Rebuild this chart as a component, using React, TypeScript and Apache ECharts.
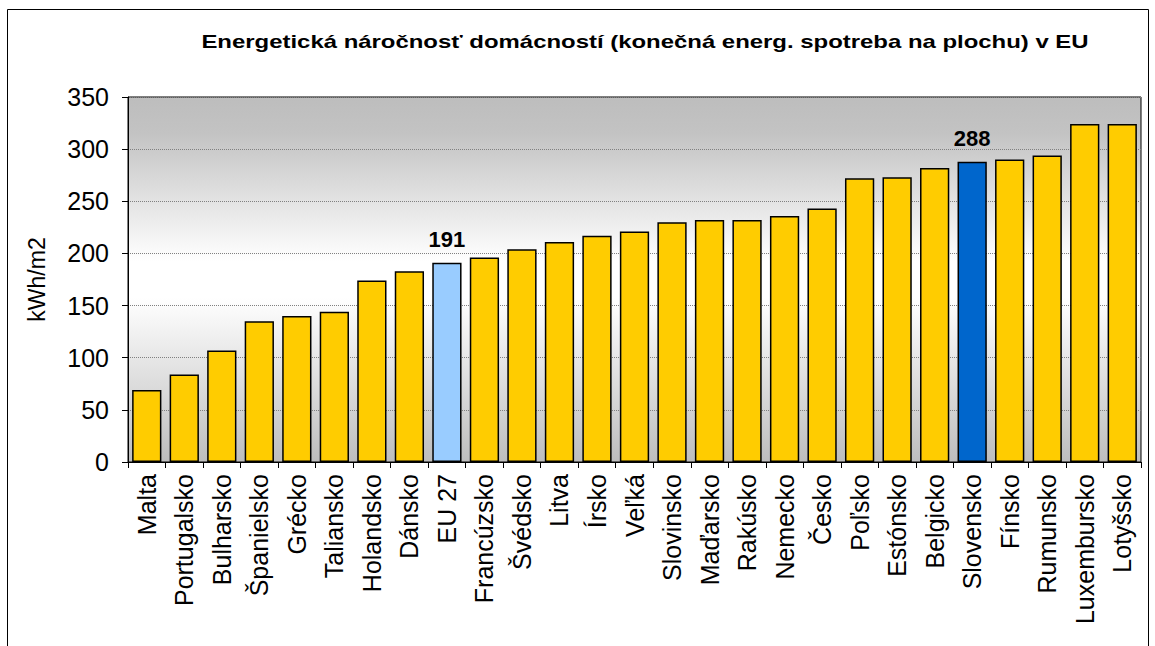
import React, { useEffect, useRef } from "react";
import * as echarts from "echarts";

const titleText = "Energetická náročnosť domácností (konečná energ. spotreba na plochu) v EU";
const yAxisName = "kWh/m2";
const categories = [
  "Malta", "Portugalsko", "Bulharsko", "Španielsko", "Grécko", "Taliansko", "Holandsko",
  "Dánsko", "EU 27", "Francúzsko", "Švédsko", "Litva", "Írsko", "Veľká", "Slovinsko",
  "Maďarsko", "Rakúsko", "Nemecko", "Česko", "Poľsko", "Estónsko", "Belgicko",
  "Slovensko", "Fínsko", "Rumunsko", "Luxembursko", "Lotyšsko",
];
const values = [
  69, 84, 107, 135, 140, 144, 174, 183, 191, 196, 204, 211, 217, 221, 230,
  232, 232, 236, 243, 272, 273, 282, 288, 290, 294, 324, 324,
];
const highlighted: Record<string, string> = { "EU 27": "#99CCFF", "Slovensko": "#0066CC" };
const labelled = ["EU 27", "Slovensko"];

const FONT = "Liberation Sans, Arial, sans-serif";

export default function App() {
  const ref = useRef<HTMLDivElement>(null);
  useEffect(() => {
    const chart = echarts.init(ref.current!, null, { renderer: "svg" });
    const data = categories.map((c, i) => ({
      value: values[i],
      itemStyle: { color: highlighted[c] || "#FFCC00" },
      label: {
        show: labelled.includes(c),
        position: "top",
        distance: 12,
        fontSize: 22,
        fontWeight: "bold",
        color: "#000",
        fontFamily: FONT,
      },
    }));
    chart.setOption({
      animation: false,
      backgroundColor: "#fff",
      textStyle: { fontFamily: FONT },
      graphic: [
        {
          type: "rect",
          shape: { x: 7.5, y: 9.5, width: 1141, height: 700 },
          style: { fill: "none", stroke: "#000", lineWidth: 1 },
          silent: true,
        },
        {
          type: "text",
          x: 645,
          y: 42,
          scaleX: 1.33,
          originX: 0,
          style: {
            text: titleText,
            font: `bold 18px ${FONT}`,
            fill: "#000",
            align: "center",
            verticalAlign: "middle",
          },
          silent: true,
        },
      ],
      grid: {
        left: 128,
        right: 14,
        top: 97,
        bottom: 184,
        show: true,
        borderColor: "#000",
        borderWidth: 1,
        backgroundColor: new echarts.graphic.LinearGradient(0, 0, 0, 1, [
          { offset: 0, color: "#bdbdbd" },
          { offset: 0.1, color: "#c3c3c3" },
          { offset: 0.45, color: "#ffffff" },
          { offset: 0.55, color: "#ffffff" },
          { offset: 1, color: "#bdbdbd" },
        ]),
      },
      xAxis: {
        type: "category",
        data: categories,
        axisLine: { lineStyle: { color: "#000", width: 1 } },
        axisTick: { show: true, length: 6, lineStyle: { color: "#000" } },
        axisLabel: {
          rotate: 90,
          interval: 0,
          fontSize: 25,
          color: "#000",
          margin: 12,
        },
      },
      yAxis: {
        type: "value",
        min: 0,
        max: 350,
        interval: 50,
        name: yAxisName,
        nameLocation: "middle",
        nameRotate: 90,
        nameGap: 80,
        nameTextStyle: { fontSize: 23, color: "#000" },
        axisLine: { show: true, lineStyle: { color: "#000", width: 1 } },
        axisTick: { show: true, length: 6, lineStyle: { color: "#000" } },
        axisLabel: { fontSize: 25, color: "#000", margin: 19 },
        splitLine: { show: true, lineStyle: { color: "#808080", type: "dotted", width: 1 } },
      },
      series: [
        {
          type: "bar",
          data,
          barCategoryGap: "22%",
          itemStyle: { borderColor: "#000", borderWidth: 1.5 },
        },
      ],
    });
    return () => chart.dispose();
  }, []);
  return (
    <div
      ref={ref}
      style={{ position: "fixed", left: 0, top: 0, width: 1155, height: 646 }}
    />
  );
}
